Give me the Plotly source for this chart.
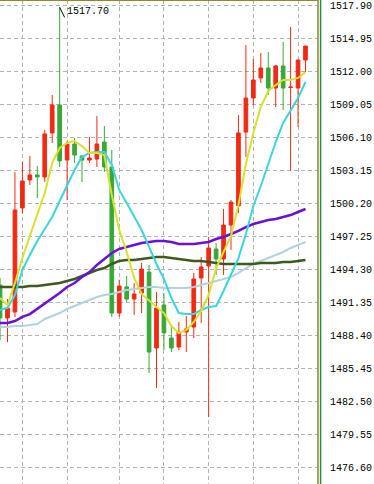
import plotly.graph_objects as go

# ---------------- data ----------------
bar_index = list(range(42))

opens = [1492.91, 1489.97, 1490.50, 1499.79, 1502.29, 1502.74, 1502.56, 1506.49, 1508.99, 1504.07,
         1505.50, 1504.43, 1504.07, 1504.16, 1505.68, 1503.45, 1490.41, 1492.74, 1491.66, 1492.20,
         1494.07, 1487.29, 1491.13, 1488.18, 1487.38, 1488.72, 1489.16, 1493.54, 1494.61, 1496.13,
         1495.24, 1498.27, 1499.97, 1506.57, 1509.61, 1511.40, 1512.29, 1510.50, 1512.47, 1510.55,
         1510.50, 1513.00]
highs = [1493.54, 1491.66, 1503.00, 1503.90, 1504.43, 1503.54, 1506.75, 1509.88, 1517.70, 1505.77,
         1506.04, 1504.52, 1506.13, 1508.00, 1507.11, 1504.97, 1493.36, 1493.72, 1493.09, 1494.88,
         1494.70, 1492.29, 1492.20, 1489.16, 1489.61, 1490.15, 1493.99, 1495.41, 1497.20, 1496.66,
         1499.70, 1500.50, 1508.09, 1514.34, 1513.09, 1513.63, 1513.72, 1512.56, 1514.61, 1515.95,
         1513.00, 1514.25]
lows = [1488.00, 1487.82, 1490.06, 1499.34, 1501.84, 1500.68, 1502.11, 1505.59, 1503.45, 1500.50,
        1503.81, 1502.11, 1503.81, 1503.45, 1503.00, 1490.06, 1490.06, 1491.40, 1490.24, 1490.41,
        1485.06, 1483.72, 1487.11, 1486.93, 1487.11, 1486.93, 1488.18, 1489.52, 1481.13, 1493.81,
        1493.81, 1496.04, 1499.34, 1504.34, 1508.99, 1510.95, 1509.88, 1508.81, 1508.54, 1503.09,
        1507.02, 1511.93]
closes = [1489.97, 1490.86, 1499.61, 1502.20, 1502.74, 1502.56, 1506.40, 1508.99, 1503.99, 1505.50,
          1504.52, 1504.07, 1504.25, 1505.50, 1503.45, 1490.41, 1492.82, 1491.66, 1492.11, 1494.34,
          1486.93, 1490.86, 1488.63, 1487.29, 1488.72, 1488.99, 1493.45, 1494.52, 1496.22, 1495.24,
          1498.27, 1500.32, 1506.49, 1509.61, 1511.22, 1512.29, 1510.50, 1512.47, 1510.50, 1510.59,
          1513.00, 1514.25]

ma_yellow = [1491.75, 1491.13, 1493.09, 1495.32, 1497.29, 1499.16, 1501.13, 1503.81, 1505.15, 1505.59,
             1505.77, 1505.32, 1504.70, 1504.70, 1504.52, 1500.95, 1497.82, 1495.86, 1493.54, 1492.11,
             1491.49, 1490.95, 1490.41, 1489.25, 1488.63, 1488.90, 1489.61, 1490.59, 1492.02, 1494.43,
             1495.86, 1497.29, 1500.06, 1503.72, 1506.49, 1508.81, 1510.23, 1510.77, 1511.22, 1511.22,
             1511.40, 1511.93]
ma_cyan = [1490.68, 1490.86, 1492.02, 1494.25, 1495.59, 1496.84, 1497.91, 1498.99, 1500.41, 1501.75,
           1503.18, 1504.34, 1504.70, 1504.79, 1504.79, 1503.63, 1501.40, 1500.23, 1499.07, 1497.82,
           1496.31, 1494.79, 1493.45, 1491.75, 1490.41, 1490.32, 1490.32, 1490.68, 1490.95, 1491.04,
           1492.38, 1493.81, 1495.32, 1497.47, 1499.97, 1501.75, 1503.72, 1505.68, 1507.38, 1508.54,
           1509.61, 1511.04]
ma_purple = [1489.52, 1489.52, 1489.70, 1490.06, 1490.32, 1490.77, 1491.22, 1491.75, 1492.20, 1492.74,
             1493.09, 1493.63, 1494.07, 1494.70, 1495.24, 1495.77, 1496.13, 1496.31, 1496.49, 1496.66,
             1496.75, 1496.84, 1496.84, 1496.75, 1496.57, 1496.57, 1496.57, 1496.66, 1496.75, 1497.02,
             1497.20, 1497.47, 1497.74, 1498.09, 1498.36, 1498.54, 1498.72, 1498.81, 1498.99, 1499.16,
             1499.43, 1499.70]
ma_olive = [1492.74, 1492.74, 1492.74, 1492.74, 1492.82, 1492.82, 1492.91, 1493.00, 1493.09, 1493.27,
            1493.45, 1493.72, 1493.99, 1494.25, 1494.43, 1494.79, 1495.06, 1495.15, 1495.15, 1495.24,
            1495.32, 1495.41, 1495.41, 1495.32, 1495.24, 1495.15, 1495.06, 1495.06, 1494.97, 1494.88,
            1494.79, 1494.79, 1494.79, 1494.79, 1494.79, 1494.88, 1494.88, 1494.88, 1494.97, 1494.97,
            1495.06, 1495.15]
ma_lightblue = [1489.16, 1489.16, 1489.25, 1489.25, 1489.34, 1489.43, 1489.88, 1490.15, 1490.41, 1490.77,
                1491.04, 1491.31, 1491.57, 1491.84, 1492.02, 1492.11, 1492.29, 1492.47, 1492.56, 1492.65,
                1492.74, 1492.74, 1492.65, 1492.65, 1492.65, 1492.65, 1492.74, 1492.91, 1493.09, 1493.27,
                1493.45, 1493.63, 1493.99, 1494.43, 1494.79, 1495.06, 1495.32, 1495.59, 1495.86, 1496.22,
                1496.49, 1496.75]

price_ticks = [1517.90, 1514.95, 1512.00, 1509.05, 1506.10, 1503.15, 1500.20, 1497.25,
               1494.30, 1491.35, 1488.40, 1485.45, 1482.50, 1479.55, 1476.60]
grid_bars = [3, 9, 16, 22, 28, 34, 40]

# ---------------- styling ----------------
RED = "#f02a14"
GREEN = "#38a838"
OLIVE = "#8c8a2a"
FONT = "Liberation Mono"

W, H = 374, 484
PLOT_W = 318
STEP_PX = 7.45
FIRST_PX = 0.05
PX_PER_UNIT = 11.2
Y_TOP = 1518.36

fig = go.Figure()

for vals, color, width in [
    (ma_lightblue, "#b3d3dc", 2),
    (ma_olive, "#3d5a1c", 2.5),
    (ma_purple, "#6a10d8", 2.5),
    (ma_cyan, "#3ad6dc", 2),
    (ma_yellow, "#d6e22c", 2),
]:
    fig.add_trace(go.Scatter(x=bar_index, y=vals, mode="lines",
                             line=dict(color=color, width=width),
                             hoverinfo="skip", showlegend=False))

fig.add_trace(go.Candlestick(
    x=bar_index, open=opens, high=highs, low=lows, close=closes,
    increasing=dict(line=dict(color=RED, width=1), fillcolor=RED),
    decreasing=dict(line=dict(color=GREEN, width=1), fillcolor=GREEN),
    whiskerwidth=0, showlegend=False,
))

# max-high marker label
imax = max(range(len(highs)), key=lambda i: highs[i])
fig.add_shape(type="line", xref="x", yref="y",
              xsizemode="pixel", ysizemode="pixel",
              xanchor=imax, yanchor=highs[imax],
              x0=0, x1=5, y0=0, y1=-10,
              line=dict(color="#000000", width=1))
fig.add_annotation(x=imax, y=highs[imax], text=f"{highs[imax]:.2f}",
                   showarrow=False, xanchor="left", yanchor="middle",
                   xshift=5, yshift=-4,
                   font=dict(family=FONT, size=10, color="#000000"))

# borders
fig.add_shape(type="line", xref="paper", yref="paper", x0=0, x1=1, y0=1, y1=1,
              line=dict(color=OLIVE, width=2))
fig.add_shape(type="line", xref="paper", yref="paper", x0=1, x1=1, y0=0, y1=1,
              line=dict(color=OLIVE, width=1.5))
fig.add_shape(type="line", xref="paper", yref="paper",
              x0=1 + 2.6 / PLOT_W, x1=1 + 2.6 / PLOT_W, y0=0, y1=1,
              line=dict(color="#2f8a4a", width=1.5))

x_lo = -FIRST_PX / STEP_PX
x_hi = (PLOT_W - FIRST_PX) / STEP_PX
y_lo = Y_TOP - H / PX_PER_UNIT

fig.update_layout(
    width=W, height=H,
    margin=dict(l=0, r=W - PLOT_W, t=0, b=0),
    paper_bgcolor="#ffffff", plot_bgcolor="#ffffff",
    showlegend=False,
    xaxis=dict(range=[x_lo, x_hi], rangeslider=dict(visible=False),
               tickvals=grid_bars, showticklabels=False, ticks="",
               showgrid=True, gridcolor="#b4b4b4", griddash="4px,3px", gridwidth=1,
               zeroline=False, showline=False, fixedrange=True),
    yaxis=dict(range=[y_lo, Y_TOP], side="right",
               tickvals=price_ticks, ticktext=[f"{v:.2f}" for v in price_ticks],
               tickfont=dict(family=FONT, size=10, color="#000000"),
               ticks="", ticklabelstandoff=11,
               showgrid=True, gridcolor="#b4b4b4", griddash="4px,3px", gridwidth=1,
               zeroline=False, showline=False, fixedrange=True),
)

fig.write_html("out.html")
